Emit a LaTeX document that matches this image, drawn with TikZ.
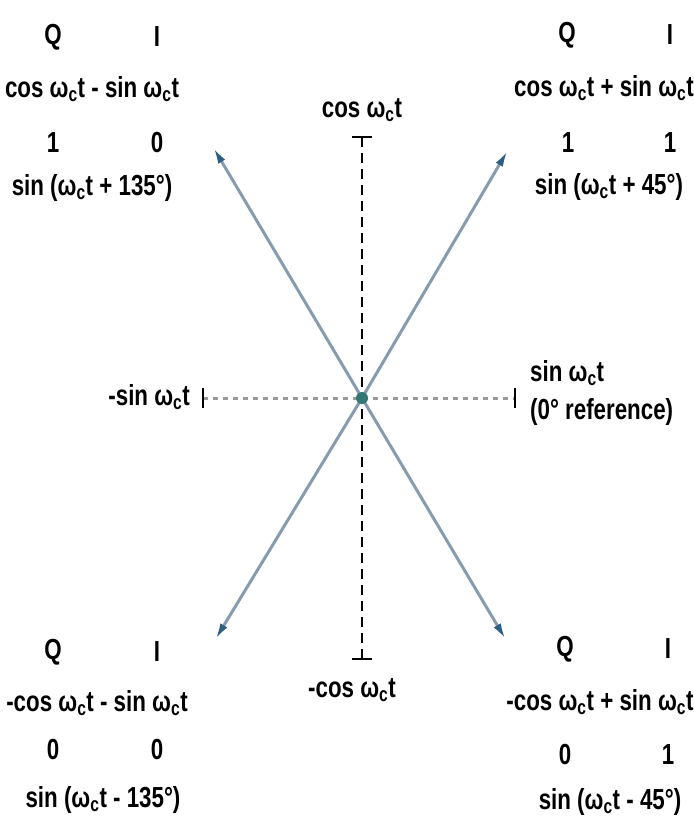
\documentclass[tikz,border=0pt]{standalone}
\usepackage{fontspec}
\usepackage{xcolor}
\usepackage{tikz}
\usetikzlibrary{arrows.meta}

\newfontfamily\lblfont[FakeStretch=0.77]{Liberation Sans}
\newcommand{\wct}{ω\textsubscript{c}t}

\definecolor{vecgray}{RGB}{135,155,175}
\definecolor{tipblue}{RGB}{45,95,130}
\definecolor{dotteal}{RGB}{50,120,115}

\begin{document}
\begin{tikzpicture}[
    x=1pt, y=-1pt,
    lbl/.style={font=\lblfont\bfseries\fontsize{29pt}{32pt}\selectfont, inner sep=0pt},
    vec/.style={line width=3pt, draw=vecgray,
                -{Latex[length=17pt,width=8pt,color=tipblue]}},
    vaxis/.style={line width=2pt, dash pattern=on 10pt off 6pt},
    haxis/.style={line width=3pt, gray!80, dash pattern=on 5pt off 5pt},
    tick/.style={line width=2.2pt}
]
\useasboundingbox (0,0) rectangle (694,823);

% axes
\coordinate (top) at (362,137);
\coordinate (bot) at (362,659);
\coordinate (lft) at (203,398);
\coordinate (rgt) at (515,398);
\coordinate (o)   at (362,398);
\draw[vaxis] (top) -- (bot);
\draw[haxis] (lft) -- (rgt);
\draw[tick] ([xshift=-10pt]top) -- ([xshift=10pt]top);
\draw[tick] ([xshift=-10pt]bot) -- ([xshift=10pt]bot);
\draw[tick] ([yshift=-10pt]lft) -- ([yshift=10pt]lft);
\draw[tick] ([yshift=-10pt]rgt) -- ([yshift=10pt]rgt);

% phase vectors
\coordinate (tl) at (213,147);
\coordinate (tr) at (508,150);
\coordinate (bl) at (215,640);
\coordinate (br) at (506,640);
\draw[vec] (o) -- (tl);
\draw[vec] (o) -- (tr);
\draw[vec] (o) -- (bl);
\draw[vec] (o) -- (br);
\fill[dotteal] (o) circle (6pt);

% axis labels
\node[lbl] (cosT) at (362,110) {cos \wct};
\node[lbl] (cosB) at (352,690) {-cos \wct};
\node[lbl, anchor=east] (sinL) at (190,397) {-sin \wct};
\node[lbl, anchor=west] (sinR) at (530,373) {sin \wct};
\node[lbl, anchor=west] (refR) at (530,412) {(0° reference)};

% top left
\node[lbl] (qTL)  at (53,37)   {Q};
\node[lbl] (iTL)  at (157,37)  {I};
\node[lbl] (eTL)  at (92,89)   {cos \wct{} - sin \wct};
\node[lbl] (bqTL) at (53,143)  {1};
\node[lbl] (biTL) at (157,143) {0};
\node[lbl] (pTL)  at (92,188)  {sin (\wct{} + 135°)};

% top right
\node[lbl] (qTR)  at (567,35)  {Q};
\node[lbl] (iTR)  at (670,35)  {I};
\node[lbl] (eTR)  at (604,88)  {cos \wct{} + sin \wct};
\node[lbl] (bqTR) at (568,143) {1};
\node[lbl] (biTR) at (670,143) {1};
\node[lbl] (pTR)  at (609,187) {sin (\wct{} + 45°)};

% bottom left
\node[lbl] (qBL)  at (53,652)  {Q};
\node[lbl] (iBL)  at (157,652) {I};
\node[lbl] (eBL)  at (97,703)  {-cos \wct{} - sin \wct};
\node[lbl] (bqBL) at (53,750)  {0};
\node[lbl] (biBL) at (157,750) {0};
\node[lbl] (pBL)  at (103,800) {sin (\wct{} - 135°)};

% bottom right
\node[lbl] (qBR)  at (565,649) {Q};
\node[lbl] (iBR)  at (668,649) {I};
\node[lbl] (eBR)  at (600,702) {-cos \wct{} + sin \wct};
\node[lbl] (bqBR) at (565,755) {0};
\node[lbl] (biBR) at (668,755) {1};
\node[lbl] (pBR)  at (610,802) {sin (\wct{} - 45°)};
\end{tikzpicture}
\end{document}
